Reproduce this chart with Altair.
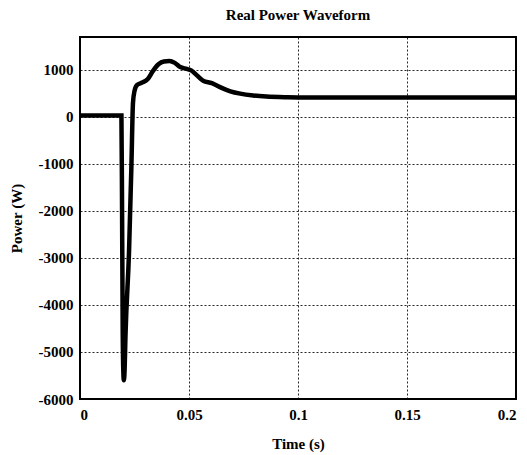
import altair as alt
import pandas as pd

# Time (s) and real power (W)
time_s = [0.0, 0.0190, 0.0193, 0.0196, 0.0199, 0.0201, 0.0204, 0.0209, 0.0225, 0.0236,
          0.0243, 0.0250, 0.0262, 0.0285, 0.0310, 0.0335, 0.0360, 0.0385, 0.0410, 0.0435,
          0.0460, 0.0490, 0.0510, 0.0535, 0.0565, 0.0605, 0.0640, 0.0690, 0.0735, 0.0795,
          0.0855, 0.0950, 0.1000, 0.2000]
power_w = [30, 30, -2000, -4600, -5450, -5600, -5450, -4600, -2850, -1000,
           300, 550, 680, 730, 800, 980, 1120, 1180, 1190, 1150,
           1060, 1020, 990, 890, 770, 720, 640, 545, 495, 455,
           432, 418, 415, 415]

x_ticks = [0, 0.05, 0.1, 0.15, 0.2]
y_ticks = [-6000, -5000, -4000, -3000, -2000, -1000, 0, 1000]

df = pd.DataFrame({"t": time_s, "p": power_w})
FONT = "Liberation Serif"

chart = alt.Chart(df).mark_line(color="black", strokeWidth=4.5, interpolate="monotone").encode(
    x=alt.X("t:Q", scale=alt.Scale(domain=[0, 0.2], nice=False),
            axis=alt.Axis(title="Time (s)", values=x_ticks, labelExpr="'' + datum.value",
                          labelPadding=8, titlePadding=14)),
    y=alt.Y("p:Q", scale=alt.Scale(domain=[-6000, 1700], nice=False),
            axis=alt.Axis(title="Power (W)", values=y_ticks, labelExpr="'' + datum.value",
                          labelPadding=7, titlePadding=14)),
).properties(
    width=436, height=362,
    background="white",
    title=alt.TitleParams("Real Power Waveform", font=FONT, fontSize=15, fontWeight="bold",
                          color="black", offset=14),
    autosize=alt.AutoSizeParams(type="none"),
    padding={"left": 80, "top": 37, "right": 11, "bottom": 56},
).configure_view(
    stroke="black", strokeWidth=2
).configure_axis(
    labelFont=FONT, labelFontSize=15, labelFontWeight="bold", labelColor="black",
    titleFont=FONT, titleFontSize=15, titleFontWeight="bold", titleColor="black",
    grid=True, gridColor="black", gridDash=[2, 2], gridWidth=1, gridOpacity=0.85,
    domain=False, ticks=False,
)

chart.save("out.html", embed_options={"renderer": "svg", "actions": False})
